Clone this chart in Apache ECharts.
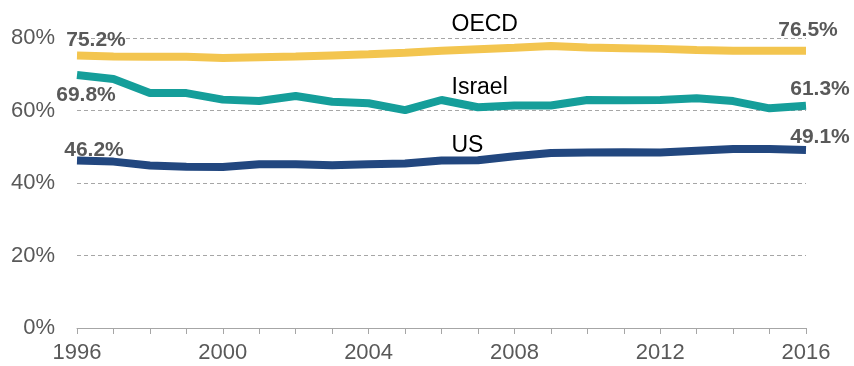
<!DOCTYPE html>
<html>
<head>
<meta charset="utf-8">
<script src="https://cdn.jsdelivr.net/npm/echarts@6/dist/echarts.min.js"></script>
<style>
  html, body { margin: 0; padding: 0; background: #fff; }
  #chart { width: 854px; height: 366px; }
</style>
</head>
<body>
<div id="chart"></div>
<script>
var years = ['1996','1997','1998','1999','2000','2001','2002','2003','2004','2005','2006',
             '2007','2008','2009','2010','2011','2012','2013','2014','2015','2016'];
var oecd   = [75.2, 74.9, 74.8, 74.8, 74.5, 74.7, 74.9, 75.2, 75.5, 75.9, 76.5,
              76.9, 77.3, 77.8, 77.4, 77.2, 77.0, 76.7, 76.5, 76.5, 76.5];
var israel = [69.8, 68.7, 64.8, 64.8, 63.0, 62.6, 64.0, 62.4, 62.0, 60.1, 62.9,
              60.9, 61.4, 61.4, 62.9, 62.8, 62.9, 63.4, 62.6, 60.6, 61.3];
var us     = [46.2, 45.9, 44.8, 44.5, 44.4, 45.2, 45.2, 44.9, 45.2, 45.4, 46.2,
              46.3, 47.4, 48.3, 48.4, 48.5, 48.4, 48.9, 49.4, 49.4, 49.1];
var yTicks = [0, 20, 40, 60, 80];

var myChart = echarts.init(document.getElementById('chart'));
var FONT = '"Liberation Sans", Arial, sans-serif';
var nameIdx = 10; // series name sits near 2006

// build data items, putting value labels at the ends and the name in the middle
function build(values, firstLbl, lastLbl, nameLbl) {
  return values.map(function (v, i) {
    var item = { value: v };
    if (i === 0) item.label = firstLbl;
    else if (i === values.length - 1) item.label = lastLbl;
    else if (i === nameIdx) item.label = nameLbl;
    return item;
  });
}

function valLabel(pos, offset) {
  return {
    show: true, position: pos, distance: 5, offset: offset,
    formatter: function (p) { return p.value.toFixed(1) + '%'; },
    fontFamily: FONT, fontSize: 21, fontWeight: 'bold', color: '#595959'
  };
}
function nameLabel(txt, offset) {
  return {
    show: true, position: 'top', distance: 5, align: 'left', offset: offset,
    formatter: txt, fontFamily: FONT, fontSize: 23, color: '#000'
  };
}

function line(name, values, color, firstLbl, lastLbl, nameLbl) {
  return {
    name: name,
    type: 'line',
    symbol: 'circle',
    symbolSize: 0,
    showSymbol: true,
    lineStyle: { color: color, width: 8 },
    itemStyle: { color: color },
    label: { show: false },
    data: build(values, firstLbl, lastLbl, nameLbl)
  };
}

var option = {
  animation: false,
  backgroundColor: '#fff',
  grid: { left: 77, right: 48, top: 38, bottom: 38 },
  xAxis: {
    type: 'category',
    data: years,
    boundaryGap: false,
    axisLine: { show: true, lineStyle: { color: '#a6a6a6', width: 1 } },
    axisTick: { show: true, interval: 0, length: 6, inside: false, lineStyle: { color: '#a6a6a6' } },
    axisLabel: { interval: 3, margin: 14, fontFamily: FONT, fontSize: 22, color: '#595959' },
    splitLine: { show: false }
  },
  yAxis: {
    type: 'value',
    min: yTicks[0],
    max: yTicks[yTicks.length - 1],
    interval: 20,
    axisLine: { show: false },
    axisTick: { show: false },
    axisLabel: { margin: 22, fontFamily: FONT, fontSize: 22, color: '#595959', formatter: '{value}%' },
    splitLine: { show: true, lineStyle: { color: '#a6a6a6', type: [4, 3], width: 1 } }
  },
  series: [
    line('OECD', oecd, '#F3C54F',
      valLabel('top', [19, 0]), valLabel('top', [2, -5]), nameLabel('OECD', [10, -10])),
    line('Israel', israel, '#159E9A',
      valLabel('bottom', [9, 5]), valLabel('top', [14, -1]), nameLabel('Israel', [10, 4])),
    line('US', us, '#22477F',
      valLabel('top', [17, 5]), valLabel('top', [14, 3]), nameLabel('US', [10, 2]))
  ]
};

myChart.setOption(option);
</script>
</body>
</html>
